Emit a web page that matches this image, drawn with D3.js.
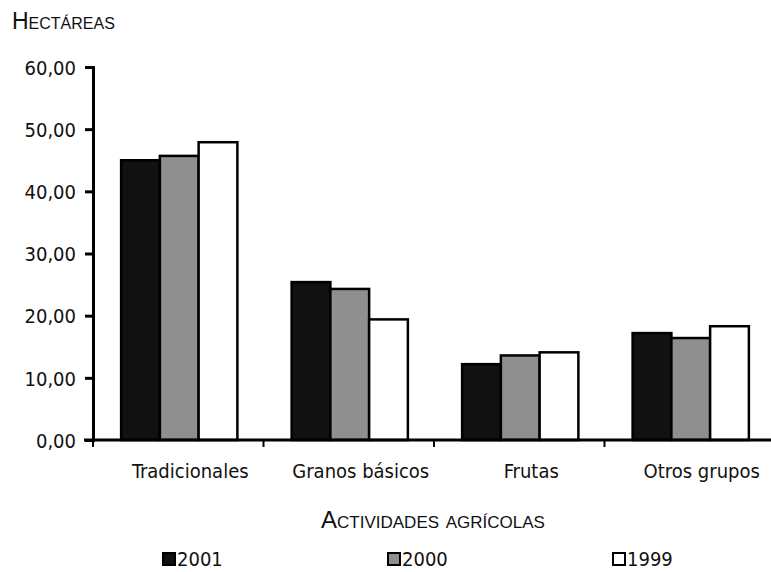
<!DOCTYPE html>
<html>
<head>
<meta charset="utf-8">
<script src="https://cdn.jsdelivr.net/npm/d3@7"></script>
<style>
  body { margin: 0; background: #fff; }
  svg { display: block; }
  .narrow { font-family: "DejaVu Sans Condensed", "DejaVu Sans", sans-serif; font-stretch: condensed; font-size: 20px; fill: #111; }
  .caps { font-family: "Liberation Sans", Arial, sans-serif; font-size: 24px; font-variant: small-caps; fill: #111; }
</style>
</head>
<body>
<div id="chart"></div>
<script>
// categorias y series (hectáreas por actividad)
var categories = ['Tradicionales', 'Granos básicos', 'Frutas', 'Otros grupos']
var series = ['2001', '2000', '1999']
var values2001 = [45.0, 25.4, 12.2, 17.2]
var values2000 = [45.7, 24.3, 13.6, 16.4]
var values1999 = [47.9, 19.4, 14.1, 18.3]
var yTicks = [0, 10, 20, 30, 40, 50, 60]
var seriesColors = ['#111111', '#8f8f8f', '#ffffff']

var valuesBySeries = { '2001': values2001, '2000': values2000, '1999': values1999 }

var width = 771, height = 572

var svg = d3.select('#chart').append('svg')
  .attr('width', width)
  .attr('height', height)

var x0 = d3.scaleBand()
  .domain(categories)
  .range([93, 775])

var x1 = d3.scaleBand()
  .domain(series)
  .range([0, x0.bandwidth()])
  .paddingOuter(0.7)

var y = d3.scaleLinear()
  .domain([0, 60])
  .range([440, 67])

var color = d3.scaleOrdinal().domain(series).range(seriesColors)

var locale = d3.formatLocale({ decimal: ',', thousands: '.', grouping: [3], currency: ['', ''] })
var fmt = locale.format('.2f')

// bars
var groups = svg.append('g').selectAll('g')
  .data(categories)
  .enter().append('g')
    .attr('transform', function(d) { return 'translate(' + (x0(d) + 1) + ',0)' })

groups.selectAll('rect')
  .data(function(c, i) {
    return series.map(function(s) { return { key: s, value: valuesBySeries[s][i] } })
  })
  .enter().append('rect')
    .attr('x', function(d) { return x1(d.key) })
    .attr('y', function(d) { return y(d.value) })
    .attr('width', x1.bandwidth())
    .attr('height', function(d) { return y(0) - y(d.value) })
    .attr('fill', function(d) { return color(d.key) })
    .attr('stroke', '#000')
    .attr('stroke-width', 2.5)

// y axis
var yAxis = svg.append('g')
  .attr('transform', 'translate(93,0)')
  .call(d3.axisLeft(y).tickValues(yTicks).tickFormat(fmt).tickSize(8).tickPadding(9))

yAxis.select('.domain').attr('stroke', '#000').attr('stroke-width', 3)
yAxis.selectAll('.tick line').attr('stroke', '#000').attr('stroke-width', 3)
yAxis.selectAll('.tick text')
  .attr('class', 'narrow')
  .attr('font-family', null)
  .attr('font-size', null)
  .attr('dy', '0.36em')

// x axis
svg.append('line')
  .attr('x1', 84).attr('x2', width)
  .attr('y1', y(0)).attr('y2', y(0))
  .attr('stroke', '#000')
  .attr('stroke-width', 3)

svg.append('g').selectAll('line')
  .data(categories)
  .enter().append('line')
    .attr('x1', function(d) { return x0(d) })
    .attr('x2', function(d) { return x0(d) })
    .attr('y1', y(0))
    .attr('y2', y(0) + 7)
    .attr('stroke', '#000')
    .attr('stroke-width', 2)

svg.append('g').selectAll('text')
  .data(categories)
  .enter().append('text')
    .attr('class', 'narrow')
    .attr('x', function(d) { return x0(d) + x0.bandwidth() / 2 + 12 })
    .attr('y', 478)
    .attr('text-anchor', 'middle')
    .text(function(d) { return d })

// titles
svg.append('text')
  .attr('class', 'caps')
  .attr('x', 12)
  .attr('y', 29)
  .style('font-size', '23px')
  .text('Hectáreas')

svg.append('text')
  .attr('class', 'caps')
  .attr('x', 433)
  .attr('y', 528)
  .attr('text-anchor', 'middle')
  .text('Actividades agrícolas')

// legend
var legend = svg.append('g').selectAll('g')
  .data(series)
  .enter().append('g')
    .attr('transform', function(d, i) { return 'translate(' + (163 + i * 225) + ',553)' })

legend.append('rect')
  .attr('width', 12)
  .attr('height', 12)
  .attr('fill', function(d) { return color(d) })
  .attr('stroke', '#000')
  .attr('stroke-width', 2)

legend.append('text')
  .attr('class', 'narrow')
  .attr('x', 14)
  .attr('y', 13)
  .text(function(d) { return d })
</script>
</body>
</html>
